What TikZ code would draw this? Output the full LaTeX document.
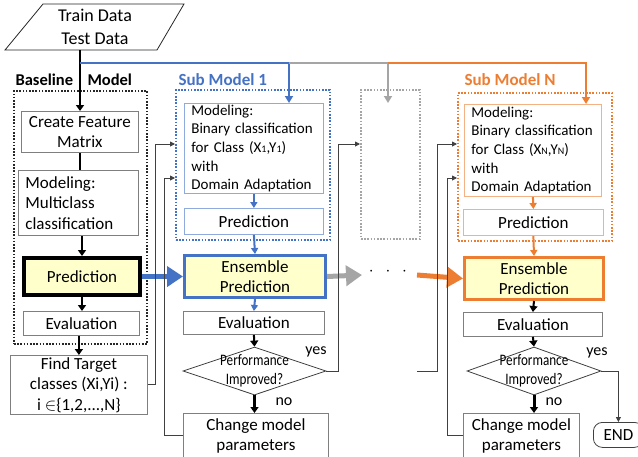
\documentclass[tikz,border=0pt]{standalone}
\usepackage{fontspec}
\setmainfont{Carlito}
\usepackage{graphicx}
\usetikzlibrary{arrows.meta,shapes.geometric}
\definecolor{cblue}{HTML}{4472C4}
\definecolor{cblueL}{HTML}{8FAADC}
\definecolor{corange}{HTML}{ED7D31}
\definecolor{corangeL}{HTML}{F4B183}
\definecolor{cgray}{HTML}{A5A5A5}
\definecolor{cbox}{HTML}{7F7F7F}
\definecolor{cline}{HTML}{404040}
\definecolor{cyel}{HTML}{FFFFCC}
\newcommand{\sm}[1]{{\fontsize{10}{10}\selectfont #1}}
\newcommand{\perfA}{\scalebox{0.82}[1]{Performance}}
\newcommand{\perfB}{\scalebox{0.82}[1]{Improved?}}
\begin{document}
\begin{tikzpicture}[x=1pt,y=-1pt,
  every node/.style={font=\fontsize{17}{20.5}\selectfont, text=black},
  box/.style={draw=cbox, line width=0.8pt, fill=white, inner sep=0pt, align=center, anchor=north west},
  lbox/.style={box, align=left, inner xsep=7pt, font=\fontsize{15}{18.6}\selectfont},
  dotbox/.style={line width=1.8pt, dash pattern=on 1.6pt off 1.6pt, inner sep=0pt, anchor=north west},
  dia/.style={draw=cline, line width=0.8pt, diamond, aspect=3, inner sep=0pt, fill=white},
  diatext/.style={inner sep=0pt, align=center, font=\fontsize{16}{19}\selectfont},
  arr/.style={-{Triangle[length=6pt,width=8pt]}, line width=2pt, black},
  thinarr/.style={-{Triangle[length=5pt,width=5pt]}, line width=0.9pt, cline},
  lbl/.style={font=\fontsize{16}{18}\selectfont}
]
\useasboundingbox (0,0) rectangle (638,456);

% dotted group boxes
\node[dotbox, draw=black!85, minimum width=133, minimum height=253] (bbox) at (13,90) {};
\node[dotbox, draw=cblue, minimum width=154, minimum height=150] (sm1) at (175,89) {};
\node[dotbox, draw=cgray, minimum width=59, minimum height=149] (gbox) at (360,89) {};
\node[dotbox, draw=corange, minimum width=154, minimum height=148] (smN) at (457,92) {};

% group labels
\node[anchor=west, font=\bfseries\fontsize{16.5}{18}\selectfont] (lb0a) at (12,80) {Baseline};
\node[anchor=west, font=\bfseries\fontsize{16.5}{18}\selectfont] (lb0b) at (84,80) {Model};
\node[anchor=west, text=cblue, font=\bfseries\fontsize{17}{18}\selectfont] (lb1) at (175,80) {Sub Model 1};
\node[anchor=west, text=corange, font=\bfseries\fontsize{17}{18}\selectfont] (lbN) at (461,80) {Sub Model N};

% data
\draw[black!85, line width=0.8pt] (5,50) -- (43,4) -- (184,4) -- (157,50) -- cycle;
\node[font=\fontsize{18}{23}\selectfont, align=center] (data) at (95,27) {Train Data\\Test Data};
\coordinate (dataout) at (80,50);
\coordinate (j0) at (80,63);
\coordinate (j1) at (289,63);
\coordinate (j2) at (388,63);
\coordinate (j3) at (586,63);
\coordinate (gtip) at (388,103);
\coordinate (ya) at (0,144);
\coordinate (yb) at (0,178);

% baseline
\node[box, minimum width=117, minimum height=41] (feat) at (21,111) {Create Feature\\Matrix};
\node[box, align=left, inner xsep=7pt, text width=106, minimum height=65] (mod0) at (18,170) {Modeling:\\Multiclass\\classification};
\node[box, draw=black, line width=4pt, fill=cyel, minimum width=116, minimum height=37] (pred0) at (22,256) {Prediction};
\node[box, minimum width=116, minimum height=24] (eval0) at (23,311) {Evaluation};
\node[box, minimum width=137, minimum height=59] (find) at (10,355) {Find Target\\classes (Xi,Yi) :\\i $\in$\{1,2,...,N\}};

% sub model 1
\node[lbox, draw=cblueL, text width=125, minimum height=90] (mod1) at (184,103) {Modeling:\\Binary classification\\for Class (X\sm{1},Y\sm{1})\\with\\Domain Adaptation};
\node[box, draw=cblueL, minimum width=139, minimum height=26] (pred1) at (184,208) {Prediction};
\node[box, draw=cblue, line width=3pt, fill=cyel, minimum width=141, minimum height=42] (ens1) at (183,254) {Ensemble\\Prediction};
\node[box, minimum width=141, minimum height=23] (eval1) at (183,311) {Evaluation};
\node[dia, minimum width=143, minimum height=48] (dia1) at (254.5,371) {};
\node[diatext] (dia1t) at (dia1.center) {\perfA\\\perfB};
\node[box, minimum width=145, minimum height=45] (chg1) at (183,413) {Change model\\parameters};

% sub model N
\node[lbox, draw=corangeL, text width=123, minimum height=92] (modN) at (464,104) {Modeling:\\Binary classification\\for Class (X\sm{N},Y\sm{N})\\with\\Domain Adaptation};
\node[box, draw=corangeL, minimum width=140, minimum height=26] (predN) at (463,209) {Prediction};
\node[box, draw=corange, line width=3pt, fill=cyel, minimum width=139, minimum height=42] (ensN) at (463,256) {Ensemble\\Prediction};
\node[box, minimum width=139, minimum height=24] (evalN) at (463,312) {Evaluation};
\node[dia, minimum width=134, minimum height=48] (diaN) at (534,371) {};
\node[diatext] (diaNt) at (diaN.center) {\perfA\\\perfB};
\node[box, minimum width=116, minimum height=45] (chgN) at (463,413) {Change model\\parameters};
\node[box, draw=cline, rounded corners=9pt, minimum width=50, minimum height=25] (end) at (593,422) {END};

% top distribution lines
\draw[arr] (dataout) -- (dataout |- feat.north);
\draw[line width=2pt, cblue, -{Triangle[length=7pt,width=8pt]}] (j0) -| (j1 |- mod1.north);
\draw[line width=2pt, cgray, -{Triangle[length=7pt,width=8pt]}] (j1) -| (gtip);
\draw[line width=2pt, corange, -{Triangle[length=7pt,width=8pt]}] (j2) -| (j3 |- modN.north);

% baseline flow
\draw[line width=2pt] (feat.south) -- (mod0.north -| feat.south);
\draw[arr] (mod0.south -| pred0.north) -- (pred0.north);
\draw[arr] (pred0.south) -- (eval0.north -| pred0.south);
\draw[arr] (eval0.south -| find.north) -- (find.north);

% sub model 1 flow
\draw[line width=2pt, cblue, -{Triangle[length=6pt,width=7pt]}] (mod1.south) -- (pred1.north);
\draw[line width=2pt, cblue, -{Triangle[length=6pt,width=7pt]}] (pred1.south) -- (ens1.north);
\draw[line width=2pt, cblue, -{Triangle[length=6pt,width=7pt]}] (ens1.south) -- (eval1.north);
\draw[arr] (eval1.south) -- (dia1.north);
\draw[arr, line width=3pt] (dia1.south) -- (chg1.north -| dia1.south);

% sub model N flow
\draw[line width=2pt, corange, -{Triangle[length=6pt,width=7pt]}] (modN.south) -- (predN.north);
\draw[line width=2pt, corange, -{Triangle[length=6pt,width=7pt]}] (predN.south) -- (ensN.north);
\draw[arr] (ensN.south) -- (evalN.north);
\draw[arr] (evalN.south) -- (diaN.north);
\draw[arr, line width=3pt] (diaN.south) -- (chgN.north -| diaN.south);

% big horizontal arrows
\coordinate (gend) at (362,275);
\coordinate (ostart) at (417,275);
\draw[line width=5pt, cblue, -{Triangle[length=16pt,width=20pt]}] (pred0.east) -- (ens1.west);
\draw[line width=5pt, cgray, -{Triangle[length=16pt,width=20pt]}] (ens1.east) -- (gend);
\node (dots) at (388,272) {$\cdot\hspace{8pt}\cdot\hspace{8pt}\cdot$};
\draw[line width=5pt, corange, -{Triangle[length=16pt,width=20pt]}] (ostart) -- (ensN.west);

% feedback connectors
\draw[thinarr] (find.east) -- ++(8,0) |- (sm1.west |- ya);
\draw[thinarr] (chg1.west) -- ++(-19,0) |- (sm1.west |- yb);
\draw[thinarr] (dia1.east) -- ++(12,0) |- (gbox.west |- ya);
\coordinate (fr) at (417,371);
\draw[thinarr] (fr) -- ++(20,0) |- (smN.west |- ya);
\draw[thinarr] (chgN.west) -- ++(-16,0) |- (smN.west |- yb);
\draw[thinarr] (diaN.east) -| (end.north);

% yes / no labels
\node[lbl] (yes1) at (316,352) {yes};
\node[lbl] (no1) at (284,402) {no};
\node[lbl] (yesN) at (597,353) {yes};
\node[lbl] (noN) at (554,402) {no};
\end{tikzpicture}
\end{document}
